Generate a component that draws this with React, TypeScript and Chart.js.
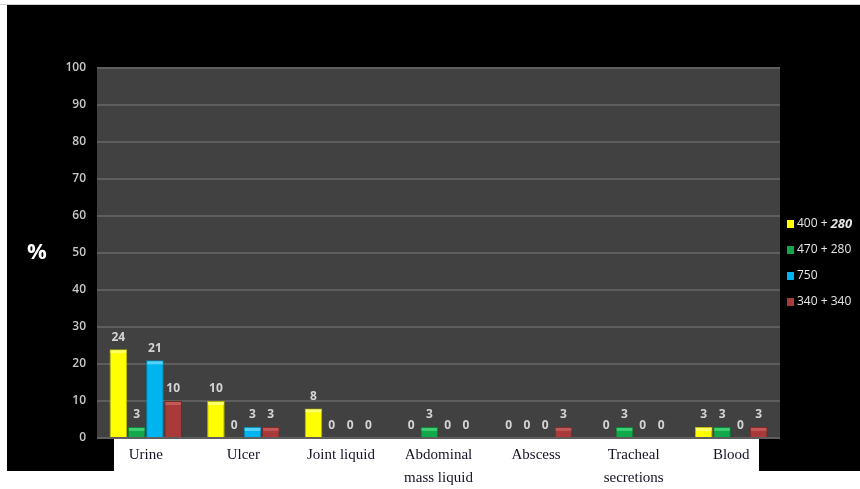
import React, { useEffect, useRef } from "react";
import { Chart, registerables } from "chart.js";

Chart.register(...registerables);

// Specimen categories along the x axis
const categories: (string | string[])[] = [
  "Urine",
  "Ulcer",
  "Joint liquid",
  ["Abdominal", "mass liquid"],
  "Abscess",
  ["Tracheal", "secretions"],
  "Blood",
];

// Percentages per antibiotic combination
const series400_280 = [24, 10, 8, 0, 0, 0, 3];
const series470_280 = [3, 0, 0, 3, 0, 3, 3];
const series750 = [21, 3, 0, 0, 0, 0, 0];
const series340_340 = [10, 3, 0, 0, 3, 0, 3];

const yTicks = [0, 10, 20, 30, 40, 50, 60, 70, 80, 90, 100];

const palette = [
  { fill: "#ffff00", border: "#b8b800", cap: "#ffff6a" },
  { fill: "#10a84a", border: "#0a7a34", cap: "#3fcf72" },
  { fill: "#00b4f0", border: "#0088b8", cap: "#55d2fa" },
  { fill: "#a83a3a", border: "#7a2626", cap: "#c25858" },
];

const legendItems = [
  { parts: [{ t: "400 + ", f: "12px 'Open Sans'" }, { t: "280", f: "italic bold 13px 'Open Sans'" }] },
  { parts: [{ t: "470 + 280", f: "12px 'Open Sans'" }] },
  { parts: [{ t: "750", f: "12px 'Open Sans'" }] },
  { parts: [{ t: "340 + 340", f: "12px 'Open Sans'" }] },
];

const backdropPlugin = {
  id: "backdrop",
  beforeDraw(chart: any) {
    const { ctx, chartArea } = chart;
    ctx.save();
    ctx.fillStyle = "#ffffff";
    ctx.fillRect(0, 0, chart.width, chart.height);
    ctx.fillStyle = "#d0d0d0";
    ctx.fillRect(0, 4, chart.width, 1);
    ctx.fillStyle = "#000000";
    ctx.fillRect(7, 5, chart.width - 7, 466);
    ctx.fillStyle = "#414141";
    ctx.fillRect(chartArea.left, chartArea.top, chartArea.right - chartArea.left, chartArea.bottom - chartArea.top);
    ctx.fillStyle = "#ffffff";
    ctx.fillRect(114, chartArea.bottom + 1, 645, chart.height - chartArea.bottom);
    // percent axis title
    ctx.fillStyle = "#ffffff";
    ctx.font = "bold 22px 'Open Sans'";
    ctx.textAlign = "center";
    ctx.textBaseline = "middle";
    ctx.fillText("%", 37, 253);
    ctx.restore();
  },
};

const barDecorPlugin = {
  id: "barDecor",
  afterDatasetsDraw(chart: any) {
    const { ctx } = chart;
    ctx.save();
    chart.data.datasets.forEach((ds: any, di: number) => {
      const meta = chart.getDatasetMeta(di);
      meta.data.forEach((bar: any, i: number) => {
        const h = bar.base - bar.y;
        if (h > 1) {
          ctx.fillStyle = palette[di].cap;
          ctx.fillRect(bar.x - bar.width / 2 + 1, bar.y + 1, bar.width - 2, Math.min(3, h - 2));
        }
        ctx.fillStyle = "#d4d4d4";
        ctx.font = "bold 12px 'Open Sans'";
        ctx.textAlign = "center";
        ctx.textBaseline = "middle";
        ctx.fillText(String(ds.data[i]), bar.x, bar.y - 12);
      });
    });
    ctx.restore();
  },
};

const legendPlugin = {
  id: "sideLegend",
  afterDraw(chart: any) {
    const { ctx } = chart;
    ctx.save();
    legendItems.forEach((item, i) => {
      const y = 224 + i * 26;
      ctx.fillStyle = palette[i].fill;
      ctx.fillRect(787, y - 4, 7, 8);
      let x = 797;
      ctx.textBaseline = "middle";
      ctx.textAlign = "left";
      ctx.fillStyle = "#e6e6e6";
      item.parts.forEach((p) => {
        ctx.font = p.f;
        ctx.fillText(p.t, x, y);
        x += ctx.measureText(p.t).width;
      });
    });
    ctx.restore();
  },
};

export default function App() {
  const ref = useRef<HTMLCanvasElement>(null);

  useEffect(() => {
    if (!ref.current) return;
    const seriesList = [series400_280, series470_280, series750, series340_340];
    const names = ["400 + 280", "470 + 280", "750", "340 + 340"];
    const chart = new Chart(ref.current, {
      type: "bar",
      data: {
        labels: categories as any,
        datasets: seriesList.map((data, i) => ({
          label: names[i],
          data,
          backgroundColor: palette[i].fill,
          borderColor: palette[i].border,
          borderWidth: 1,
          borderSkipped: "bottom" as const,
          categoryPercentage: 0.75,
          barPercentage: 0.96,
        })),
      },
      options: {
        animation: false,
        responsive: false,
        layout: { padding: { top: 68, right: 80, left: 0, bottom: 0 } },
        plugins: {
          legend: { display: false },
          tooltip: { enabled: false },
        },
        scales: {
          x: {
            grid: { display: false, drawTicks: false },
            border: { display: false },
            ticks: {
              color: "#141428",
              font: { family: "'Liberation Serif'", size: 15, lineHeight: 1.5 },
              padding: 6,
              maxRotation: 0,
              autoSkip: false,
            },
            afterFit(scale: any) {
              scale.height = 51;
            },
          },
          y: {
            min: 0,
            max: 100,
            afterBuildTicks(scale: any) {
              scale.ticks = yTicks.map((v) => ({ value: v }));
            },
            grid: { color: "#5e5e5e", lineWidth: 2, drawTicks: false },
            border: { display: false },
            ticks: {
              color: "#c8c8c8",
              font: { family: "'Open Sans'", size: 12, weight: 600 as any },
              padding: 11,
            },
            afterFit(scale: any) {
              scale.width = 97;
            },
          },
        },
      },
      plugins: [backdropPlugin, barDecorPlugin, legendPlugin],
    });
    return () => chart.destroy();
  }, []);

  return (
    <div style={{ position: "fixed", left: 0, top: 0, width: 860, height: 489 }}>
      <canvas ref={ref} width={860} height={489} />
    </div>
  );
}
